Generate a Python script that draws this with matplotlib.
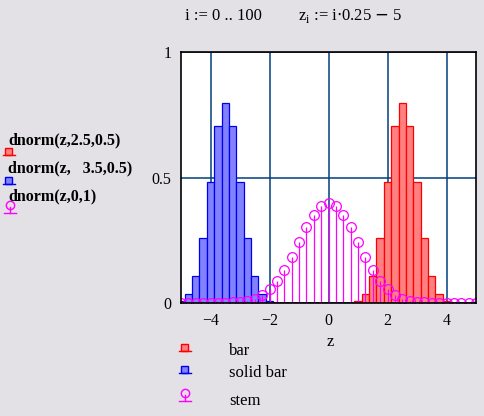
import numpy as np
import matplotlib
matplotlib.use("Agg")
import matplotlib.pyplot as plt
from matplotlib.patches import Rectangle
from matplotlib.lines import Line2D

""" DATA """

i = np.arange(0, 101)
z = i * 0.25 - 5

def dnorm(x, mu, sigma):
    return np.exp(-0.5 * ((x - mu) / sigma) ** 2) / (sigma * np.sqrt(2 * np.pi))

red_vals = dnorm(z, 2.5, 0.5)
blue_vals = dnorm(z, -3.5, 0.5)
stem_vals = dnorm(z, 0, 1)

x_ticks = [-4, -2, 0, 2, 4]
y_ticks = [0, 0.5, 1]
y_ticklabels = ["0", "0.5", "1"]
y_labels = ["dnorm(z,2.5,0.5)", "dnorm(z,   3.5,0.5)", "dnorm(z,0,1)"]
legend_labels = ["bar", "solid bar", "stem"]

""" STYLE """

BG = "#E3E1E6"
RED_FILL = "#FF8080"
RED_EDGE = "#FF0000"
BLUE_FILL = "#8282FF"
BLUE_EDGE = "#0000F0"
MAGENTA = "#FF00FF"
GRID = "#00407F"
SERIF = "Liberation Serif"

W, H = 485, 416
fig = plt.figure(figsize=(W / 100, H / 100), dpi=100, facecolor=BG)

def fx(px):
    return px / W

def fy(py):
    return 1 - py / H

ax = fig.add_axes([fx(181), fy(303), fx(476) - fx(181), fy(52) - fy(303)])
ax.set_facecolor("#FEFFFE")

ax.bar(z, red_vals, width=0.25, color=RED_FILL, edgecolor=RED_EDGE, linewidth=0.9, zorder=2)
ax.bar(z, blue_vals, width=0.25, color=BLUE_FILL, edgecolor=BLUE_EDGE, linewidth=0.9, zorder=2)
ax.vlines(z, 0, stem_vals, color=MAGENTA, linewidth=0.9, zorder=3)
ax.plot(z, stem_vals, linestyle="none", marker="o", markersize=7,
        mfc="none", mec=MAGENTA, mew=0.9, zorder=4)

ax.set_xlim(-5, 5)
ax.set_ylim(0, 1)
ax.set_xticks(x_ticks)
ax.set_yticks(y_ticks)
ax.set_yticklabels(y_ticklabels)
ax.tick_params(length=0, pad=7, labelsize=11.5)
for lab in ax.get_xticklabels() + ax.get_yticklabels():
    lab.set_fontfamily(SERIF)
ax.grid(True, color=GRID, linewidth=1.1, zorder=1)
ax.set_axisbelow(True)
for s in ax.spines.values():
    s.set_color("black")
    s.set_linewidth(1.2)
    s.set_zorder(5)

fig.text(fx(330), fy(342), "z", fontsize=12, fontfamily=SERIF, ha="center", va="center")

# header
fig.text(fx(185), fy(16), "i := 0 .. 100", fontsize=12, fontfamily=SERIF, va="center")
fig.text(fx(298), fy(16), r"z$_\mathregular{i}$ := i$\cdot$0.25 $-$ 5", fontsize=12,
         fontfamily=SERIF, va="center")

# icons
def bar_icon(cx, cy, fill, edge):
    fig.add_artist(Rectangle((fx(cx - 3.5), fy(cy + 3)), fx(7), 7 / H,
                             facecolor=fill, edgecolor=edge, linewidth=1))
    fig.add_artist(Line2D([fx(cx - 6), fx(cx + 6)], [fy(cy + 3), fy(cy + 3)],
                          color=edge, linewidth=1))

def stem_icon(cx, cy):
    fig.add_artist(Line2D([fx(cx)], [fy(cy - 3)], marker="o", markersize=6,
                          mfc="none", mec=MAGENTA, mew=1, linestyle="none"))
    fig.add_artist(Line2D([fx(cx), fx(cx)], [fy(cy - 1), fy(cy + 5)], color=MAGENTA, linewidth=1))
    fig.add_artist(Line2D([fx(cx - 6), fx(cx + 6)], [fy(cy + 5), fy(cy + 5)],
                          color=MAGENTA, linewidth=1))

# y-axis labels on the left
label_y = [140, 168, 196]
for lab, yy in zip(y_labels, label_y):
    fig.text(fx(8), fy(yy), lab, fontsize=11.5, fontfamily=SERIF, fontweight="bold", va="center")
bar_icon(9, 152, RED_FILL, RED_EDGE)
bar_icon(9, 181, BLUE_FILL, BLUE_EDGE)
stem_icon(10, 208)

# bottom legend
leg_y = [351, 373, 401]
for lab, yy in zip(legend_labels, leg_y):
    fig.text(fx(229), fy(yy), lab, fontsize=12, fontfamily=SERIF, va="center")
bar_icon(185, 348, RED_FILL, RED_EDGE)
bar_icon(185, 370, BLUE_FILL, BLUE_EDGE)
stem_icon(185, 396)

fig.savefig("out.png", dpi=100, facecolor=BG)
